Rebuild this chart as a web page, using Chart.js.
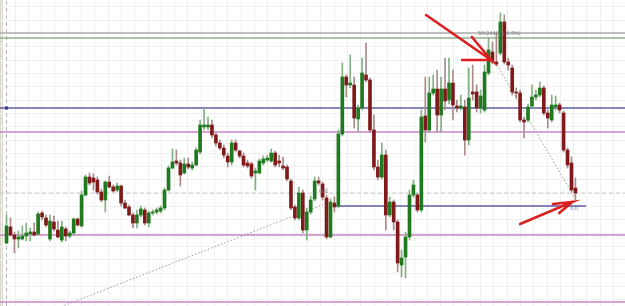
<!DOCTYPE html>
<html>
<head>
<meta charset="utf-8">
<script src="https://cdn.jsdelivr.net/npm/chart.js@4.4.1/dist/chart.umd.min.js"></script>
<style>
  html, body { margin: 0; padding: 0; background: #fff; }
  #wrap { position: relative; width: 625px; height: 306px; }
</style>
</head>
<body>
<div id="wrap"><canvas id="chart"></canvas></div>
<script>
// candles (price units, 0 = bottom edge of the plot)
const opens = [
  63, 79, 71, 67, 67, 70, 72, 74, 72, 93,
  88, 67, 84, 76, 66, 77, 70, 73, 87, 80,
  111, 129, 128, 126, 114, 106, 124, 119, 116, 120,
  103, 99, 91, 83, 91, 96, 83, 93, 94, 95,
  98, 116, 138, 145, 143, 133, 142, 138, 141, 154,
  179, 179, 181, 171, 163, 158, 150, 144, 163, 155,
  150, 143, 142, 133, 133, 143, 146, 145, 153, 145,
  140, 139, 125, 99, 88, 113, 76, 94, 107, 125,
  122, 108, 69, 103, 100, 172, 229, 221, 221, 187,
  198, 231, 226, 176, 139, 129, 151, 91, 104, 84,
  41, 49, 69, 111, 111, 96, 190, 176, 213, 217,
  191, 217, 206, 223, 200, 198, 199, 166, 214, 214,
  198, 196, 233, 254, 244, 253, 284, 244, 238, 214,
  213, 186, 186, 200, 209, 211, 218, 193, 186, 199,
  201, 193, 156, 143, 118
];
const highs = [
  91, 88, 74, 75, 80, 83, 78, 83, 94, 95,
  91, 91, 90, 85, 85, 79, 75, 88, 88, 115,
  131, 133, 132, 129, 117, 125, 130, 121, 123, 121,
  106, 101, 93, 96, 100, 98, 95, 96, 98, 100,
  118, 140, 157, 156, 146, 148, 148, 144, 158, 186,
  198, 189, 186, 173, 166, 161, 153, 166, 166, 156,
  153, 146, 144, 138, 147, 150, 151, 157, 155, 151,
  149, 141, 127, 101, 119, 116, 98, 110, 129, 129,
  124, 111, 107, 109, 176, 243, 231, 251, 229, 201,
  248, 263, 228, 191, 146, 163, 156, 109, 106, 86,
  56, 74, 116, 126, 113, 196, 229, 229, 231, 236,
  229, 248, 248, 236, 206, 211, 206, 238, 241, 221,
  216, 241, 268, 264, 273, 293, 291, 248, 241, 218,
  216, 189, 202, 221, 216, 224, 220, 196, 211, 210,
  203, 195, 158, 149, 128
];
const lows = [
  62, 70, 53, 58, 66, 65, 65, 70, 71, 86,
  79, 65, 75, 68, 64, 65, 68, 71, 80, 79,
  110, 121, 116, 112, 104, 94, 118, 114, 114, 100,
  97, 90, 78, 78, 89, 81, 79, 91, 92, 93,
  96, 115, 137, 141, 120, 132, 137, 136, 140, 152,
  176, 176, 168, 160, 156, 148, 139, 141, 154, 148,
  139, 138, 128, 116, 132, 141, 144, 144, 139, 139,
  136, 125, 96, 86, 86, 73, 66, 92, 105, 121,
  106, 67, 68, 94, 98, 170, 209, 218, 178, 174,
  196, 224, 174, 136, 126, 127, 76, 89, 76, 34,
  29, 28, 66, 109, 94, 94, 164, 174, 211, 174,
  174, 196, 202, 186, 194, 196, 151, 161, 206, 194,
  193, 194, 231, 242, 240, 251, 242, 236, 211, 208,
  184, 168, 184, 198, 206, 209, 191, 178, 184, 196,
  193, 154, 138, 114, 106
];
const closes = [
  80, 71, 67, 69, 70, 73, 74, 71, 92, 89,
  81, 85, 77, 69, 79, 70, 73, 87, 81, 111,
  129, 123, 124, 114, 106, 124, 119, 115, 120, 103,
  98, 91, 83, 91, 97, 83, 93, 94, 96, 98,
  116, 138, 144, 143, 131, 142, 139, 141, 156, 181,
  181, 181, 171, 163, 158, 151, 144, 163, 156, 150,
  141, 140, 130, 135, 145, 147, 148, 153, 141, 143,
  138, 127, 98, 88, 113, 76, 94, 106, 125, 123,
  109, 69, 104, 99, 172, 229, 221, 223, 188, 198,
  233, 226, 176, 139, 129, 151, 91, 104, 84, 43,
  48, 69, 111, 121, 96, 189, 176, 213, 217, 191,
  217, 205, 223, 201, 198, 200, 166, 208, 212, 198,
  210, 234, 256, 244, 242, 284, 244, 241, 214, 213,
  186, 184, 199, 209, 211, 218, 193, 188, 201, 201,
  196, 156, 141, 116, 113
];

// horizontal levels drawn on the chart (same price units)
const levelGray = 273;
const levelGreen = 268;
const levelBlue = 198;
const levelPinkHigh = 174;
const levelDashed = 113;
const levelBlueShort = 100;
const levelPinkLow = 71;
const levelPinkBottom = 4;

// trend lines and arrows: [bar index, price] pairs
const trendUp = [[13.0, -2], [80.4, 102]];
const trendDown = [[123.7, 244], [143.7, 109]];
const arrowTop = { tail: [106.2, 291], tip: [122.65, 246], wings: [[117.8, 269], [115.3, 246]] };
const arrowBottom = { tail: [130.0, 82], tip: [143.2, 104], wings: [[138.3, 102], [139.9, 93]] };
const shortLineFrom = 83.2, shortLineTo = 146.7;

const notes = [
  { text: '0.6', at: [79.1, 115], size: 6, color: '#8a8a8a' },
  { text: '30(2440)·(-0.5%)', at: [119.3, 272], size: 5, color: '#777' },
  { text: '0.0', at: [142.7, 97], size: 5, color: '#6a6aa8' }
];

const X_MIN = -1.65, X_MAX = 156.55;
const Y_MIN = 0, Y_MAX = 306;

const idx = opens.map((_, i) => i);
const up = idx.map(i => closes[i] >= opens[i]);

const GREEN = '#1f7a1f', RED = '#801a1a';
const GREEN_WICK = '#83b083', RED_WICK = '#ab8a8a';

function hline(v, from, to, color, width, dash) {
  return {
    type: 'line',
    data: [{ x: from, y: v }, { x: to, y: v }],
    borderColor: color,
    borderWidth: width,
    borderDash: dash || [],
    pointRadius: 0,
    order: 5
  };
}

function arrow(a, color) {
  const pts = [
    { x: a.tail[0], y: a.tail[1] },
    { x: a.tip[0], y: a.tip[1] },
    { x: a.wings[0][0], y: a.wings[0][1] },
    { x: a.wings[0][0], y: null },
    { x: a.tip[0], y: a.tip[1] },
    { x: a.wings[1][0], y: a.wings[1][1] }
  ];
  return {
    type: 'line', data: pts, borderColor: color, borderWidth: 2.6,
    pointRadius: 0, spanGaps: false, order: 0, borderCapStyle: 'round'
  };
}

const chrome = {
  id: 'chrome',
  beforeDraw(chart) {
    const ctx = chart.ctx;
    ctx.save();
    ctx.fillStyle = '#ffffff';
    ctx.fillRect(0, 0, chart.width, chart.height);
    ctx.fillStyle = '#d9d6cd';
    ctx.fillRect(0, 0, 3, chart.height);
    ctx.restore();
  },
  afterDatasetsDraw(chart) {
    const { ctx, scales: { x, y } } = chart;
    ctx.save();
    ctx.textBaseline = 'middle';
    notes.forEach(n => {
      ctx.font = n.size + 'px "DejaVu Sans"';
      ctx.fillStyle = n.color;
      ctx.fillText(n.text, x.getPixelForValue(n.at[0]), y.getPixelForValue(n.at[1]));
    });
    ctx.restore();
  }
};

new Chart(document.getElementById('chart'), {
  type: 'bar',
  data: {
    datasets: [
      // wicks
      {
        data: idx.map(i => ({ x: i, y: [lows[i], highs[i]] })),
        backgroundColor: idx.map(i => up[i] ? GREEN_WICK : RED_WICK),
        barThickness: 1,
        grouped: false,
        order: 2
      },
      // bodies
      {
        data: idx.map(i => ({ x: i, y: [opens[i], closes[i]] })),
        backgroundColor: idx.map(i => up[i] ? GREEN : RED),
        barThickness: 3,
        minBarLength: 1,
        grouped: false,
        order: 1
      },
      hline(levelGray, X_MIN, X_MAX, '#a9aca9', 1.5),
      hline(levelGreen, X_MIN, X_MAX, '#8fae8f', 1.5),
      {
        type: 'line',
        data: [{ x: X_MIN, y: levelBlue }, { x: 0, y: levelBlue }, { x: X_MAX, y: levelBlue }],
        borderColor: '#5e5ea2', borderWidth: 1.4,
        pointRadius: [0, 2.2, 0], pointStyle: 'rect',
        pointBackgroundColor: '#3a3a9a', pointBorderWidth: 0,
        order: 5
      },
      hline(levelPinkHigh, X_MIN, X_MAX, '#c584c5', 1.4),
      hline(levelDashed, X_MIN, X_MAX, '#cacaca', 1, [4, 3]),
      hline(levelBlueShort, shortLineFrom, shortLineTo, '#5e5ea2', 1.4),
      hline(levelPinkLow, X_MIN, X_MAX, '#c584c5', 1.4),
      hline(levelPinkBottom, X_MIN, X_MAX, '#c584c5', 1.4),
      {
        type: 'line',
        data: [{ x: 0, y: Y_MIN }, { x: 0, y: Y_MAX }],
        borderColor: '#b4b4b4', borderWidth: 1, borderDash: [4, 3],
        pointRadius: 0, order: 6
      },
      {
        type: 'line',
        data: trendUp.map(p => ({ x: p[0], y: p[1] })),
        borderColor: '#9a9a9a', borderWidth: 1, borderDash: [1.5, 2],
        pointRadius: 0, order: 4
      },
      {
        type: 'line',
        data: trendDown.map(p => ({ x: p[0], y: p[1] })),
        borderColor: '#9a9a9a', borderWidth: 1, borderDash: [1.5, 2],
        pointRadius: 0, order: 4
      },
      arrow(arrowTop, '#dc1f1f'),
      arrow(arrowBottom, '#dc1f1f')
    ]
  },
  options: {
    responsive: true,
    maintainAspectRatio: false,
    animation: false,
    events: [],
    layout: { padding: 0 },
    plugins: { legend: { display: false }, tooltip: { enabled: false } },
    scales: {
      x: {
        type: 'linear',
        min: X_MIN,
        max: X_MAX,
        offset: false,
        border: { display: false },
        ticks: { display: false },
        grid: { offset: false, drawTicks: false, color: '#efefef', lineWidth: 1 },
        afterBuildTicks(scale) {
          const t = [];
          for (let v = -1.22; v <= X_MAX; v += 3.367) t.push({ value: v });
          scale.ticks = t;
        }
      },
      y: {
        type: 'linear',
        min: Y_MIN,
        max: Y_MAX,
        border: { display: false },
        ticks: { display: false },
        grid: { drawTicks: false, color: '#efefef', lineWidth: 1 },
        afterBuildTicks(scale) {
          const t = [];
          for (let v = 6.4; v <= Y_MAX; v += 13.3) t.push({ value: v });
          scale.ticks = t;
        }
      }
    }
  },
  plugins: [chrome]
});
</script>
</body>
</html>
